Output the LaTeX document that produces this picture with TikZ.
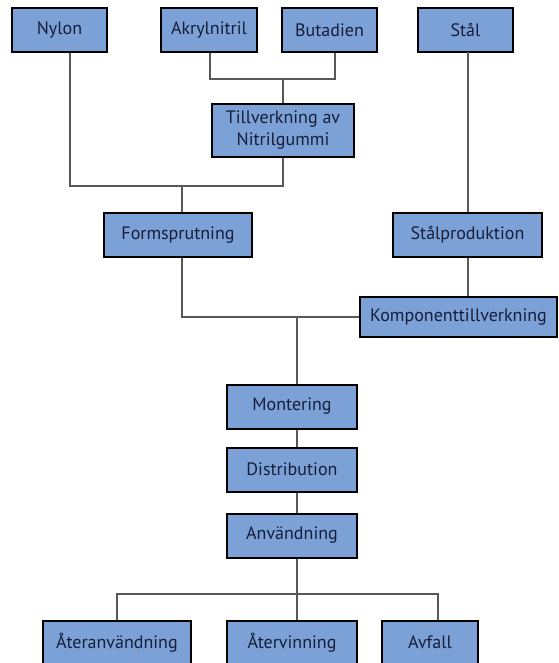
\documentclass[tikz,border=0pt]{standalone}
\usepackage{fontspec}
\setmainfont{PT Sans}
\definecolor{boxblue}{RGB}{124,161,214}
\definecolor{linegray}{RGB}{88,88,88}
\definecolor{textnavy}{RGB}{22,30,58}
\begin{document}
\begin{tikzpicture}[x=1pt,y=-1pt,
    box/.style={rectangle, draw=black, line width=2pt, fill=boxblue, text=textnavy,
      font=\fontsize{18}{22}\selectfont, inner sep=0pt, minimum height=44pt, align=center},
    link/.style={draw=linegray, line width=1.8pt}]
  \useasboundingbox (0,0) rectangle (558,663);

    % raw materials
    \node(nylon)[box, minimum width=95pt] at (59.5,30) {Nylon};
    \node(akryl)[box, minimum width=96pt] at (209,30) {Akrylnitril};
    \node(buta)[box, minimum width=95pt] at (329.5,30) {Butadien};
    \node(stal)[box, minimum width=95pt] at (465.5,30) {Stål};

    \node(nitril)[box, minimum width=142pt, minimum height=53pt] at (283,130.5) {Tillverkning av\\Nitrilgummi};
    \node(form)[box, minimum width=148pt] at (178,235) {Formsprutning};
    \node(stalprod)[box, minimum width=149pt] at (467.5,235) {Stålproduktion};
    \node(komp)[box, minimum width=197pt, minimum height=40pt] at (458.5,317) {Komponenttillverkning};

    \node(mont)[box, minimum width=130pt] at (292,406.5) {Montering};
    \node(dist)[box, minimum width=130pt] at (292,469.5) {Distribution};
    \node(anv)[box, minimum width=130pt] at (292,535.5) {Användning};

    \node(ateranv)[box, minimum width=148pt] at (117,642.5) {Återanvändning};
    \node(aterv)[box, minimum width=130pt] at (292,642.5) {Återvinning};
    \node(avfall)[box, minimum width=96pt] at (430,642.5) {Avfall};

    \coordinate(j-gummi) at (283,79);
    \coordinate(j-form) at (182,186);
    \coordinate(j-stal) at (468,52);
    \coordinate(j-mont) at (297,317);
    \coordinate(j-slut) at (297,594);
    \coordinate(j-avfall) at (438,594);

    \draw[link] ([xshift=1pt]akryl.south) |- (j-gummi) -| ([xshift=5.5pt]buta.south);
    \draw[link] (j-gummi) -- (nitril);
    \draw[link] ([xshift=10.5pt]nylon.south) |- (j-form) -| (nitril);
    \draw[link] (j-form) -- (j-form |- form.north);
    \draw[link] (j-stal) -- (j-stal |- stalprod.north);
    \draw[link] (j-stal |- stalprod.south) -- (j-stal |- komp.north);
    \draw[link] ([xshift=4pt]form.south) |- (komp);
    \draw[link] (j-mont) -- (j-mont |- mont.north);
    \draw[link] (mont.south -| j-mont) -- (dist.north -| j-mont);
    \draw[link] (dist.south -| j-mont) -- (anv.north -| j-mont);
    \draw[link] (anv.south -| j-slut) -- (j-slut);
    \draw[link] (ateranv) |- (j-avfall) -- (j-avfall |- avfall.north);
    \draw[link] (j-slut) -- (j-slut |- aterv.north);
  \end{tikzpicture}
\end{document}
